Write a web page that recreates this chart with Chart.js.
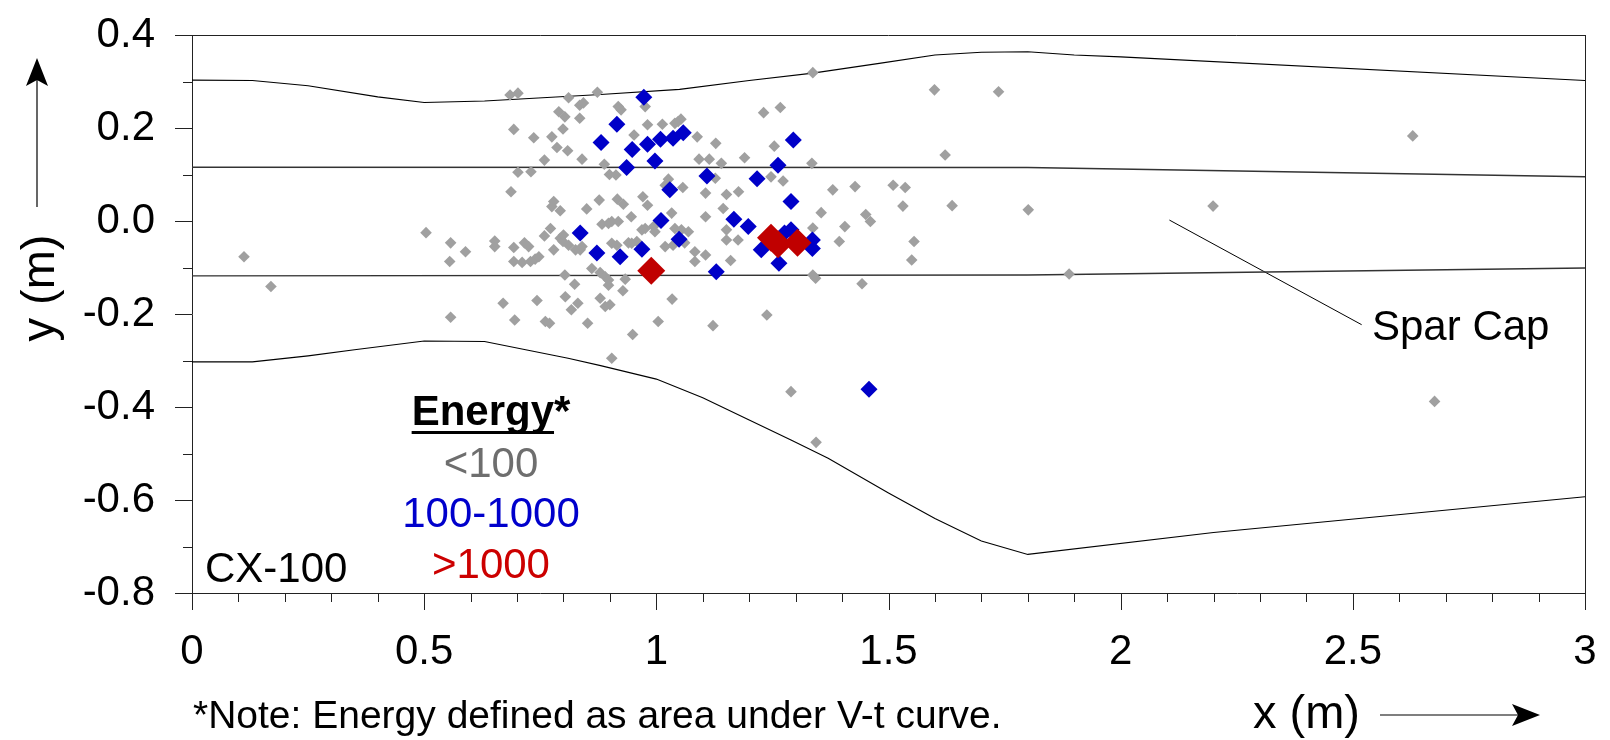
<!DOCTYPE html>
<html><head><meta charset="utf-8">
<script src="https://cdn.jsdelivr.net/npm/chart.js@4/dist/chart.umd.min.js"></script>
<style>html,body{margin:0;padding:0;background:#fff}#wrap{width:1610px;height:740px;position:relative}</style>
</head><body><div id="wrap"><canvas id="c"></canvas></div>
<script>
const xTicks = [0, 0.5, 1, 1.5, 2, 2.5, 3];
const yTicks = [-0.8, -0.6, -0.4, -0.2, 0.0, 0.2, 0.4];

const lowEnergy = [
[0.112,-0.077],[0.170,-0.141],[0.504,-0.025],[0.557,-0.047],[0.555,-0.087],[0.557,-0.207],[0.589,-0.066],
[0.652,-0.043],[0.652,-0.055],[0.670,-0.177],[0.685,0.271],[0.702,0.275],[0.693,0.197],[0.687,0.063],[0.702,0.105],
[0.730,0.106],[0.693,-0.057],[0.693,-0.087],[0.695,-0.213],[0.711,-0.089],[0.716,-0.047],[0.725,-0.055],[0.729,-0.087],
[0.736,0.179],[0.739,-0.082],[0.743,-0.171],[0.747,-0.077],[0.759,0.131],[0.759,-0.032],[0.761,-0.216],[0.770,-0.220],
[0.772,-0.016],[0.775,0.181],[0.775,0.031],[0.779,0.042],[0.779,-0.062],[0.786,0.158],[0.790,0.235],[0.793,0.022],
[0.793,-0.037],[0.799,0.198],[0.799,-0.044],[0.800,-0.030],[0.803,0.224],[0.803,-0.116],[0.804,-0.163],[0.809,0.151],
[0.811,0.265],[0.811,-0.052],[0.817,-0.191],[0.824,-0.136],[0.826,-0.062],[0.831,-0.177],[0.835,0.249],[0.835,0.221],
[0.836,-0.062],[0.840,0.133],[0.840,-0.055],[0.843,0.254],[0.850,0.026],[0.852,-0.220],[0.861,-0.102],[0.873,0.277],
[0.877,0.045],[0.879,-0.111],[0.879,-0.166],[0.883,-0.007],[0.888,0.122],[0.890,-0.120],[0.890,-0.184],[0.897,-0.005],
[0.897,-0.127],[0.897,-0.138],[0.899,0.100],[0.900,-0.180],[0.904,-0.001],[0.904,-0.048],[0.904,-0.295],[0.913,0.099],
[0.915,-0.052],[0.916,0.047],[0.918,0.246],[0.918,-0.001],[0.924,0.239],[0.928,-0.150],[0.929,0.036],[0.933,-0.125],
[0.940,-0.047],[0.946,0.009],[0.947,-0.048],[0.949,-0.244],[0.952,0.185],[0.958,-0.044],[0.969,-0.019],[0.971,0.052],
[0.976,0.246],[0.976,-0.016],[0.981,0.207],[0.981,0.034],[0.994,-0.012],[0.997,-0.023],[1.004,-0.216],[1.013,0.208],
[1.019,0.077],[1.019,-0.055],[1.026,0.090],[1.033,0.017],[1.034,-0.168],[1.036,-0.052],[1.040,0.210],[1.040,-0.016],
[1.047,0.214],[1.053,0.219],[1.054,-0.019],[1.057,0.072],[1.061,-0.047],[1.069,-0.023],[1.083,-0.066],[1.083,-0.087],
[1.088,0.181],[1.092,0.133],[1.106,0.060],[1.106,0.009],[1.106,-0.073],[1.114,0.133],[1.122,-0.225],[1.127,0.092],
[1.128,0.167],[1.140,0.124],[1.144,0.027],[1.151,0.057],[1.151,-0.019],[1.151,-0.041],[1.160,-0.085],[1.176,-0.041],
[1.177,0.063],[1.190,0.136],[1.231,0.233],[1.238,-0.202],[1.247,0.095],[1.254,0.161],[1.267,0.244],[1.273,0.086],
[1.290,-0.367],[1.335,0.124],[1.337,0.319],[1.337,-0.015],[1.337,-0.116],[1.343,-0.123],[1.344,-0.476],[1.355,0.018],
[1.380,0.067],[1.394,-0.044],[1.406,-0.012],[1.428,0.074],[1.443,-0.135],[1.451,0.014],[1.461,-0.001],[1.510,0.077],
[1.531,0.032],[1.536,0.072],[1.550,-0.084],[1.555,-0.044],[1.599,0.282],[1.622,0.142],[1.637,0.033],[1.737,0.278],
[1.801,0.024],[1.889,-0.114],[2.199,0.032],[2.629,0.183],[2.676,-0.388]
];
const midEnergy = [
[0.836,-0.026],[0.872,-0.069],[0.881,0.169],[0.915,0.208],[0.922,-0.077],[0.936,0.115],[0.948,0.154],[0.969,-0.061],
[0.973,0.266],[0.981,0.165],[0.997,0.129],[1.009,0.176],[1.010,0.001],[1.029,0.067],[1.036,0.178],[1.049,-0.039],
[1.058,0.190],[1.109,0.097],[1.129,-0.109],[1.167,0.004],[1.198,-0.012],[1.217,0.091],[1.226,-0.062],[1.262,0.120],
[1.264,-0.091],[1.276,-0.026],[1.290,-0.019],[1.290,0.042],[1.295,0.174],[1.336,-0.041],[1.336,-0.059],[1.458,-0.362]
];
const highEnergy = [[0.989,-0.107],[1.247,-0.036],[1.262,-0.050],[1.304,-0.047]];

const upperSkin = [[0,0.303],[0.13,0.302],[0.25,0.291],[0.4,0.267],[0.5,0.255],[0.63,0.258],[0.88,0.272],[1.05,0.283],
[1.2,0.302],[1.337,0.318],[1.48,0.339],[1.6,0.357],[1.7,0.363],[1.8,0.364],[1.9,0.357],[2.0,0.353],[3,0.302]];
const lowerSkin = [[0,-0.303],[0.13,-0.303],[0.25,-0.29],[0.35,-0.277],[0.5,-0.258],[0.63,-0.259],[0.81,-0.295],
[0.88,-0.311],[1.0,-0.34],[1.1,-0.38],[1.2,-0.428],[1.29,-0.471],[1.37,-0.51],[1.5,-0.585],[1.6,-0.64],[1.7,-0.688],
[1.8,-0.717],[2.2,-0.670],[3,-0.593]];
const upperSparCap = [[0,0.1155],[1.8,0.115],[3,0.095]];
const lowerSparCap = [[0,-0.118],[1.8,-0.116],[3,-0.101]];
const sparCapLeader = [[2.105,0.002],[2.519,-0.223]];

const legendTitle = 'Energy';
const legendLabels = ['<100', '100-1000', '>1000'];
const legendColors = ['#6e6e6e', '#0000cc', '#cc0000'];

const FONT = '"Liberation Sans", Arial, Helvetica, sans-serif';
const toPts = a => a.map(p => ({x: p[0], y: p[1]}));

function lineDs(arr, color, w, order) {
  return {type: 'scatter', data: toPts(arr), showLine: true, borderColor: color, borderWidth: w,
    pointRadius: 0, pointHoverRadius: 0, fill: false, tension: 0, order: order};
}

const overlay = {
  id: 'overlay',
  afterDraw(chart) {
    const ctx = chart.ctx, xs = chart.scales.x, ys = chart.scales.y, a = chart.chartArea;
    ctx.save();
    ctx.strokeStyle = '#222'; ctx.lineWidth = 1;
    ctx.beginPath();
    ctx.moveTo(a.left, a.top + 0.5); ctx.lineTo(a.right, a.top + 0.5);
    ctx.moveTo(a.right + 0.5, a.top); ctx.lineTo(a.right + 0.5, a.bottom);
    ctx.stroke();
    ctx.beginPath();
    for (let i = -8; i <= 4; i++) {
      const py = Math.round(ys.getPixelForValue(i / 10)) + 0.5;
      const len = (i % 2 === 0) ? 17 : 9;
      ctx.moveTo(a.left - len, py); ctx.lineTo(a.left, py);
    }
    for (let i = 0; i <= 30; i++) {
      const px = Math.round(xs.getPixelForValue(i / 10)) + 0.5;
      const len = (i % 5 === 0) ? 17 : 9;
      ctx.moveTo(px, a.bottom); ctx.lineTo(px, a.bottom + len);
    }
    ctx.stroke();

    ctx.textAlign = 'left'; ctx.textBaseline = 'alphabetic';
    ctx.fillStyle = '#000';
    ctx.font = 'bold 42px ' + FONT;
    const tw = ctx.measureText(legendTitle).width;
    const sw = ctx.measureText('*').width;
    const lx = 491 - (tw + sw) / 2;
    ctx.fillText(legendTitle, lx, 425);
    ctx.fillText('*', lx + tw, 425);
    ctx.fillRect(lx, 431, tw, 3);
    ctx.font = '42px ' + FONT;
    ctx.textAlign = 'center';
    const ly = [477, 527, 578];
    legendLabels.forEach((t, i) => { ctx.fillStyle = legendColors[i]; ctx.fillText(t, 491, ly[i]); });
    ctx.fillStyle = '#000';
    ctx.textAlign = 'left';
    ctx.fillText('CX-100', 205, 582);
    ctx.fillText('Spar Cap', 1372, 340);

    ctx.font = '39px ' + FONT;
    ctx.fillText('*Note: Energy defined as area under V-t curve.', 193, 728);

    ctx.font = '47px ' + FONT;
    ctx.fillText('x (m)', 1253, 728);
    ctx.strokeStyle = '#000'; ctx.lineWidth = 1.2;
    ctx.beginPath(); ctx.moveTo(1380, 715); ctx.lineTo(1520, 715); ctx.stroke();
    ctx.beginPath(); ctx.moveTo(1540, 715); ctx.lineTo(1512, 704); ctx.lineTo(1518, 715); ctx.lineTo(1512, 726); ctx.closePath(); ctx.fill();

    ctx.save();
    ctx.translate(54, 288); ctx.rotate(-Math.PI / 2);
    ctx.textAlign = 'center';
    ctx.fillText('y (m)', 0, 0);
    ctx.restore();
    ctx.beginPath(); ctx.moveTo(37, 207); ctx.lineTo(37, 78); ctx.stroke();
    ctx.beginPath(); ctx.moveTo(37, 58); ctx.lineTo(26, 86); ctx.lineTo(37, 80); ctx.lineTo(48, 86); ctx.closePath(); ctx.fill();
    ctx.restore();
  }
};

new Chart(document.getElementById('c'), {
  type: 'scatter',
  data: {
    datasets: [
      {label: '>1000', data: toPts(highEnergy), pointStyle: 'rectRot', pointRadius: 14, backgroundColor: '#c00000', borderWidth: 0, order: 0},
      {label: '100-1000', data: toPts(midEnergy), pointStyle: 'rectRot', pointRadius: 8.5, backgroundColor: '#0000c8', borderWidth: 0, order: 1},
      {label: '<100', data: toPts(lowEnergy), pointStyle: 'rectRot', pointRadius: 5.8, backgroundColor: '#a0a0a0', borderWidth: 0, order: 2},
      lineDs(upperSkin, '#000', 1.1, 3),
      lineDs(lowerSkin, '#000', 1.1, 4),
      lineDs(upperSparCap, '#333', 1.4, 5),
      lineDs(lowerSparCap, '#333', 1.4, 6),
      lineDs(sparCapLeader, '#000', 1, 7)
    ]
  },
  options: {
    responsive: true, maintainAspectRatio: false, animation: false,
    layout: {padding: {left: 0, right: 25, top: 35, bottom: 0}},
    plugins: {legend: {display: false}, tooltip: {enabled: false}},
    scales: {
      x: {
        type: 'linear', min: 0, max: 3,
        afterBuildTicks: s => { s.ticks = xTicks.map(v => ({value: v})); },
        afterFit: s => { s.height = 147; s.paddingLeft = 0; s.paddingRight = 0; },
        ticks: {color: '#000', font: {family: FONT, size: 42}, padding: 34, maxRotation: 0, autoSkip: false,
          callback: v => String(v)},
        grid: {drawOnChartArea: false, drawTicks: false},
        border: {display: true, color: '#222', width: 1}
      },
      y: {
        type: 'linear', min: -0.8, max: 0.4,
        afterBuildTicks: s => { s.ticks = yTicks.map(v => ({value: v})); },
        afterFit: s => { s.width = 192; s.paddingTop = 0; s.paddingBottom = 0; },
        ticks: {color: '#000', font: {family: FONT, size: 42}, padding: 37, autoSkip: false,
          callback: v => Number(v).toFixed(1)},
        grid: {drawOnChartArea: false, drawTicks: false},
        border: {display: true, color: '#222', width: 1}
      }
    }
  },
  plugins: [overlay]
});
</script></body></html>
